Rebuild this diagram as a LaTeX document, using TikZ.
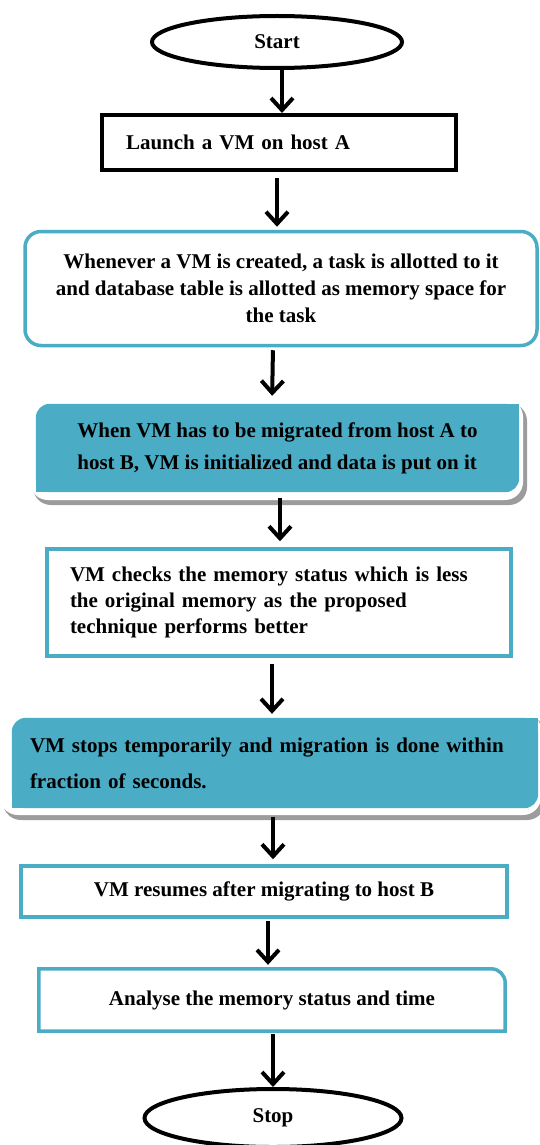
\documentclass[tikz,border=0pt]{standalone}
\usepackage{fontspec}
\setmainfont{Liberation Serif}
\usetikzlibrary{shapes.geometric,arrows.meta,backgrounds}
\definecolor{vmteal}{HTML}{4BACC6}
\definecolor{vmshadow}{HTML}{9C9C9C}
\tikzset{
  terminal/.style={ellipse, draw, line width=4pt, font=\bfseries\fontsize{21}{26}\selectfont},
  plainbox/.style={rectangle, draw, line width=4pt, font=\bfseries\fontsize{21}{26}\selectfont},
  tealbox/.style={rectangle, draw=vmteal, line width=3.5pt, font=\bfseries\fontsize{21}{26}\selectfont},
  fillbox/.style={rectangle, font=\bfseries\fontsize{21}{26}\selectfont},
  flow/.style={-{Straight Barb[length=12pt,width=22pt]}, line width=4pt},
}
\begin{document}
\begin{tikzpicture}[x=1pt, y=-1pt]
\useasboundingbox (0,0) rectangle (540,1145);

\node [terminal, minimum width=250pt, minimum height=52pt] (start) at (277,42) {Start};
\node [plainbox, minimum width=354pt, minimum height=55pt, text width=306pt, align=left] (launch) at (279,142.5) {Launch a VM on host A};
\node [tealbox, rounded corners=16pt, minimum width=512pt, minimum height=114pt, align=center,
  font=\bfseries\fontsize{21}{27}\selectfont] (create) at (281,288.5)
  {Whenever a VM is created, a task is allotted to it\\ and database table is allotted as memory space for\\ the task};
\node [fillbox, minimum width=483pt, minimum height=88pt, align=left,
  font=\bfseries\fontsize{21}{32}\selectfont] (migrate) at (277.5,448)
  {When VM has to be migrated from host A to\\ host B, VM is initialized and data is put on it};
\node [tealbox, minimum width=464pt, minimum height=107pt, text width=418pt, align=left,
  font=\bfseries\fontsize{21}{26}\selectfont] (check) at (279,602.5)
  {VM checks the memory status which is less\\ the original memory as the proposed\\ technique performs better};
\node [fillbox, minimum width=526pt, minimum height=90pt, text width=490pt, align=left,
  font=\bfseries\fontsize{21}{36}\selectfont] (pause) at (275,763)
  {\makebox[490pt][s]{VM stops temporarily and migration is done within}\\ fraction of seconds.};
\node [tealbox, minimum width=486pt, minimum height=51pt] (resume) at (264,891.5) {VM resumes after migrating to host B};
\node [fillbox, minimum width=466pt, minimum height=62pt] (analyse) at (272,1000) {Analyse the memory status and time};
\node [terminal, minimum width=257pt, minimum height=58pt] (stop) at (273,1118) {Stop};

\begin{scope}[on background layer]
% shadow and fill of the migrate box
\fill [vmshadow, rounded corners=18pt] (33,403) rectangle (527,505);
\fill [white, rounded corners=18pt] (30,399) rectangle (523,500);
\fill [vmteal, rounded corners=14pt] (migrate.south west) rectangle (migrate.north east);
\fill [vmteal] (migrate.center) rectangle (migrate.north east);
\fill [vmteal] (migrate.south west) rectangle (migrate.center);
% shadow and fill of the pause box
\fill [vmshadow, rounded corners=18pt] (3,716) rectangle (545,820);
\fill [white, rounded corners=18pt] (0,712) rectangle (541,815);
\fill [vmteal, rounded corners=14pt] (pause.south west) rectangle (pause.north east);
\fill [vmteal] (pause.center) rectangle (pause.north east);
\fill [vmteal] (pause.south west) rectangle (pause.center);
\end{scope}
% border of the analyse box
\draw [vmteal, line width=3.5pt] (analyse.south west) -- (analyse.north west)
  [rounded corners=14pt] -- (analyse.north east) [sharp corners] -- (analyse.south east) -- cycle;

\draw [flow] ([xshift=5pt]start.south) -- ([xshift=3pt]launch.north);
\draw [flow, shorten <=6pt, shorten >=3pt] ([xshift=-2pt]launch.south) -- ([xshift=-4pt]create.north);
\draw [flow, shorten <=3pt, shorten >=8pt] ([xshift=-8pt]create.south) -- ([xshift=-5.5pt]migrate.north);
\draw [flow, shorten <=6pt, shorten >=6pt] ([xshift=2.5pt]migrate.south) -- ([xshift=1pt]check.north);
\draw [flow, shorten <=6pt, shorten >=4pt] ([xshift=-7pt]check.south) -- ([xshift=-3pt]pause.north);
\draw [flow, shorten <=9pt, shorten >=5pt] ([xshift=-2pt]pause.south) -- ([xshift=9pt]resume.north);
\draw [flow, shorten <=2pt, shorten >=4pt] ([xshift=4pt]resume.south) -- ([xshift=-4pt]analyse.north);
\draw [flow, shorten <=3pt] ([xshift=1pt]analyse.south) -- (stop.north);
\end{tikzpicture}
\end{document}
